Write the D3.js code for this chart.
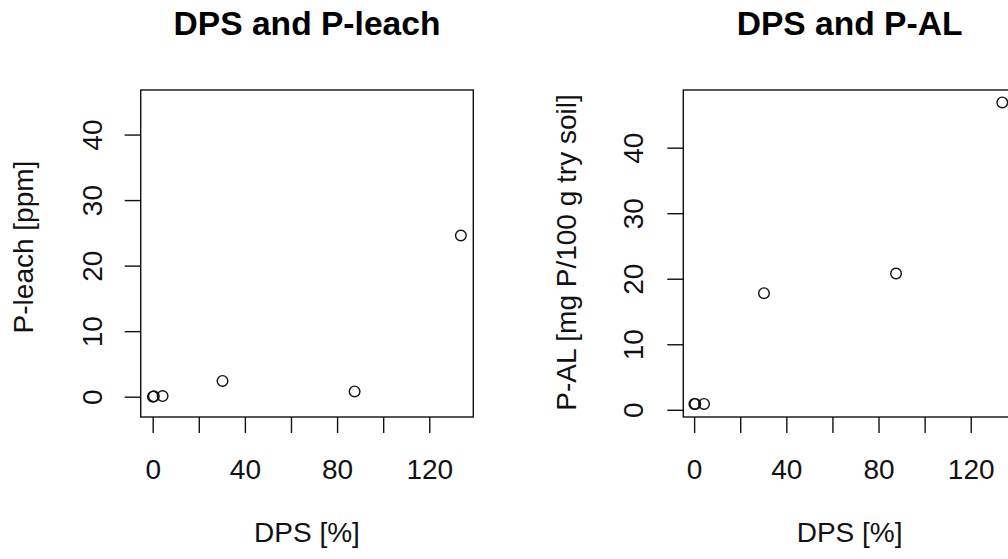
<!DOCTYPE html>
<html>
<head>
<meta charset="utf-8">
<script src="https://cdn.jsdelivr.net/npm/d3@7"></script>
<style>
  html, body { margin: 0; padding: 0; background: #fff; }
  svg { display: block; font-family: "Liberation Sans", Arial, sans-serif; }
</style>
</head>
<body>
<svg id="chart" width="1008" height="559"></svg>
<script>
// Soil samples: degree of P saturation against leachable P and AL-extractable P
const dps    = [0.1, 0.5, 4.3, 30.3, 87.6, 133.7];
const pLeach = [0.0, 0.05, 0.1, 2.4, 0.8, 24.6];
const pAL    = [0.9, 0.9, 0.9, 17.8, 20.8, 46.9];

const xTicks = [0, 20, 40, 60, 80, 100, 120];
const xTickLabels = ["0", "", "40", "", "80", "", "120"];
const yTicks = [0, 10, 20, 30, 40];

const panels = [
  {
    title: "DPS and P-leach",
    xLabel: "DPS [%]",
    yLabel: "P-leach [ppm]",
    y: pLeach,
    left: 140.7, top: 90, width: 332.6, height: 327,
    xDomain: [-5.2, 139.1],
    yDomain: [-3.1, 46.8],
    tickLabelOffset: 39,
    yTitleX: 32.5,
    yTitleY: 247
  },
  {
    title: "DPS and P-AL",
    xLabel: "DPS [%]",
    yLabel: "P-AL [mg P/100 g try soil]",
    y: pAL,
    left: 683.3, top: 90, width: 332.6, height: 327,
    xDomain: [-4.7, 139.6],
    yDomain: [-1.1, 48.8],
    tickLabelOffset: 40,
    yTitleX: 576,
    yTitleY: 252.5
  }
];

const svg = d3.select("#chart");
const ink = "#111";
const tickFont = 28;

panels.forEach(p => {
  const x = d3.scaleLinear().domain(p.xDomain).range([p.left, p.left + p.width]);
  const y = d3.scaleLinear().domain(p.yDomain).range([p.top + p.height, p.top]);
  const g = svg.append("g");

  // plot frame
  g.append("rect")
    .attr("x", p.left).attr("y", p.top)
    .attr("width", p.width).attr("height", p.height)
    .attr("fill", "none").attr("stroke", ink).attr("stroke-width", 1.4);

  // x axis
  const xa = g.append("g")
    .attr("transform", `translate(0,${p.top + p.height})`)
    .call(d3.axisBottom(x).tickValues(xTicks)
      .tickFormat((d, i) => xTickLabels[i])
      .tickSize(16).tickSizeOuter(0).tickPadding(26));
  xa.select(".domain").remove();
  xa.selectAll(".tick line").attr("stroke", ink).attr("stroke-width", 1.4);
  xa.selectAll(".tick text")
    .attr("fill", ink).attr("font-size", tickFont)
    .attr("font-family", "Liberation Sans, Arial, sans-serif");

  // y axis with labels running parallel to the axis
  const ya = g.append("g")
    .attr("transform", `translate(${p.left},0)`)
    .call(d3.axisLeft(y).tickValues(yTicks).tickSize(16).tickSizeOuter(0));
  ya.select(".domain").remove();
  ya.selectAll(".tick line").attr("stroke", ink).attr("stroke-width", 1.4);
  ya.selectAll(".tick text")
    .attr("x", null).attr("dy", null)
    .attr("transform", `translate(${-p.tickLabelOffset},0) rotate(-90)`)
    .attr("text-anchor", "middle")
    .attr("fill", ink).attr("font-size", tickFont)
    .attr("font-family", "Liberation Sans, Arial, sans-serif");

  // points
  g.selectAll("circle.pt")
    .data(dps.map((d, i) => [d, p.y[i]]))
    .join("circle")
    .attr("class", "pt")
    .attr("cx", d => x(d[0]))
    .attr("cy", d => y(d[1]))
    .attr("r", 5.3)
    .attr("fill", "none")
    .attr("stroke", ink)
    .attr("stroke-width", 1.4);

  // title
  svg.append("text")
    .attr("x", p.left + p.width / 2).attr("y", 35)
    .attr("text-anchor", "middle")
    .attr("font-size", 33.6).attr("font-weight", "bold")
    .attr("fill", "#000")
    .text(p.title);

  // x axis title
  svg.append("text")
    .attr("x", p.left + p.width / 2).attr("y", 542)
    .attr("text-anchor", "middle")
    .attr("font-size", tickFont).attr("fill", ink)
    .text(p.xLabel);

  // y axis title
  svg.append("text")
    .attr("transform", `translate(${p.yTitleX},${p.yTitleY}) rotate(-90)`)
    .attr("text-anchor", "middle")
    .attr("font-size", tickFont).attr("fill", ink)
    .text(p.yLabel);
});
</script>
</body>
</html>
